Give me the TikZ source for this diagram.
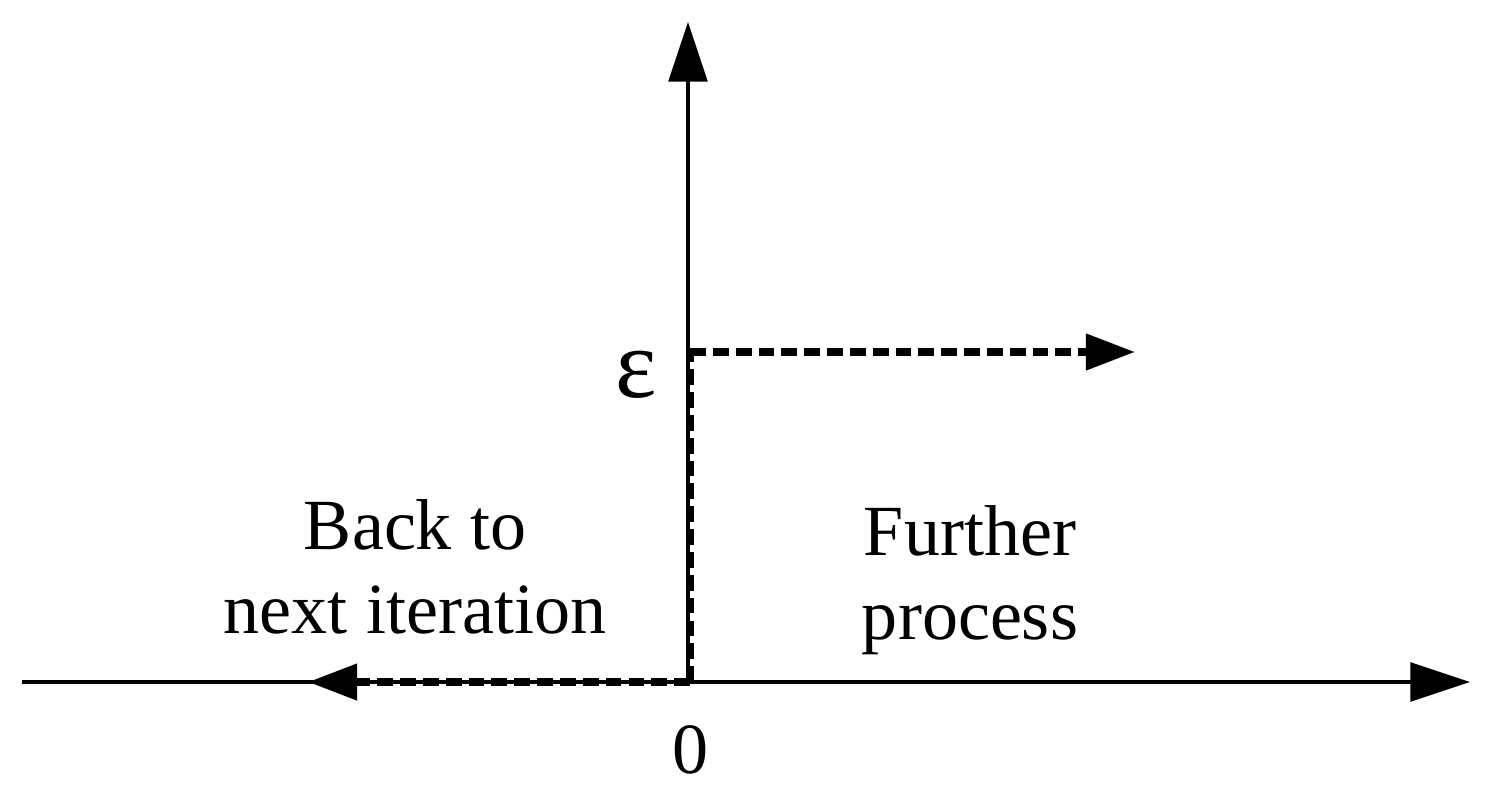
\documentclass[tikz,border=0pt]{standalone}
\usepackage{fontspec}
\setmainfont{Liberation Serif}
\usetikzlibrary{arrows.meta}
\begin{document}
\begin{tikzpicture}[x=0.02cm,y=-0.02cm,
  axis/.style={line width=2.3pt,-{Triangle[length=34pt,width=22pt]}},
  dashline/.style={line width=4.2pt,dash pattern=on 9pt off 4pt},
  dasharr/.style={dashline,-{Triangle[length=28pt,width=20pt]}},
  lbl/.style={font=\fontsize{41}{48}\selectfont,align=center}]
\useasboundingbox (0,0) rectangle (1486,794);
\coordinate (o) at (688,682);
\coordinate (xl) at (22,682);
\coordinate (xr) at (1470,682);
\coordinate (yt) at (688,22);
\coordinate (e) at (690,352);
\coordinate (eb) at (690,682);
\coordinate (er) at (1135,352);
\coordinate (bl) at (308,682);
\draw[line width=2.3pt] (xl) -- (o);
\draw[axis] (o) -- (xr);
\draw[axis] (o) -- (yt);
\draw[dashline] (eb) -- (e);
\draw[dasharr] (e) -- (er);
\draw[dasharr] (eb) -- (bl);
\node[lbl,font=\fontsize{56}{56}\selectfont] (eps) at (636,375) {ε};
\node[lbl] (zero) at (690,750) {0};
\node[lbl] (back) at (415,567) {Back to\\next iteration};
\node[lbl] (fur) at (970,580) {Further\\process};
\end{tikzpicture}
\end{document}
